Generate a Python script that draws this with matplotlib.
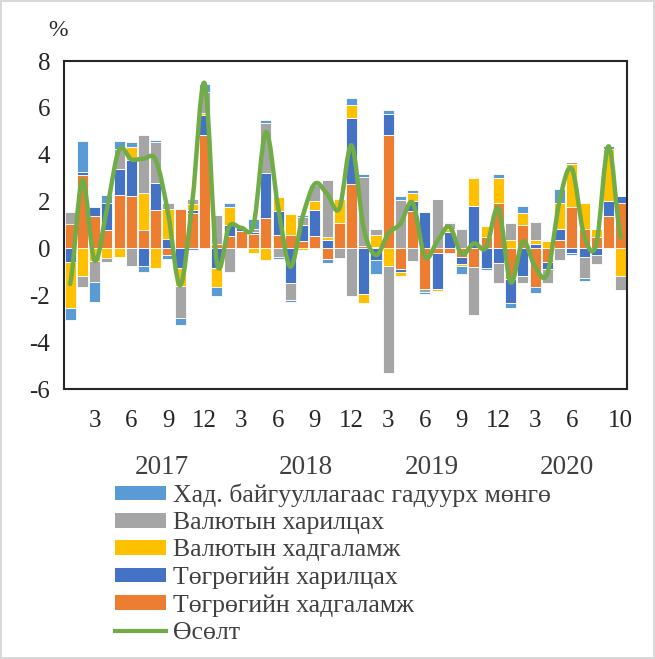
import numpy as np
import matplotlib
matplotlib.use("Agg")
import matplotlib.pyplot as plt
from matplotlib.path import Path
from matplotlib.patches import PathPatch, Patch
from matplotlib.lines import Line2D
import matplotlib.transforms as mtransforms

plt.rcParams['font.family'] = ['Liberation Serif', 'DejaVu Serif']
plt.rcParams['axes.unicode_minus'] = False

# Сарын өгөгдөл: 2017.01 - 2020.10 (46 сар)
tug_dep = [1.04, 3.13, 1.38, 0.78, 2.30, 2.23, 0.78, 1.66, -0.28, 1.70, 1.52, 4.86,
           0.18, 0.54, 0.74, 0.61, 1.28, 0.57, 0.57, 0.31, 0.53, -0.43, 1.09, 2.74,
           0.10, 0.07, 4.86, -0.88, 1.59, -1.73, -0.21, -0.21, -0.36, -0.81, 0.47, 1.92,
           -1.31, 1.02, -1.65, -0.60, 0.38, 1.78, 0.82, 0.47, 1.38, 1.92]
tug_cur = [-0.60, 0.14, 0.37, 1.17, 1.07, 1.54, -0.74, 1.14, 0.40, -0.85, 0.11, 0.85,
           -0.82, 0.48, 0.14, 0.10, 1.92, 1.02, -1.49, 0.69, 1.10, 0.36, 0.00, 2.83,
           -1.95, -0.50, 0.87, -0.12, 0.43, 1.56, -1.54, 0.71, -0.31, 1.81, -0.85, -0.64,
           -1.01, -1.18, 0.18, -0.28, 0.44, -0.21, -0.36, -0.28, 0.64, 0.33]
fx_dep = [-1.93, -1.18, -0.54, -0.40, -0.38, 0.57, 1.57, -0.85, 1.28, -0.75, 0.25, 0.09,
          -0.84, 0.76, 0.00, -0.21, -0.50, 0.61, 0.92, -0.07, 0.40, 0.11, 1.01, 0.54,
          -0.37, 0.50, -0.74, -0.17, 0.35, 0.04, -0.08, 0.11, -0.08, 1.20, 0.48, 1.09,
          0.36, 0.50, 0.16, 0.33, 1.14, 1.82, 1.14, 0.38, 2.22, -1.18]
fx_cur = [0.50, -0.48, -0.88, -0.20, 0.89, -0.75, 2.48, 1.75, 0.28, -1.36, 0.25, 0.88,
          1.24, -1.00, 0.00, 0.11, 2.16, -0.36, -0.71, 0.35, 0.67, 2.47, -0.40, -2.02,
          2.96, 0.25, -4.56, 2.06, -0.54, -0.15, 2.13, 0.27, 0.85, -2.03, 0.00, -0.82,
          0.73, -0.31, 0.80, -0.58, -0.50, 0.07, -0.89, -0.40, 0.00, -0.60]
cash = [-0.53, 1.31, -0.85, 0.32, 0.32, 0.21, -0.26, 0.07, -0.15, -0.31, -0.07, 0.36,
        -0.37, 0.17, 0.00, 0.42, 0.11, -0.09, -0.07, 0.07, 0.06, -0.18, 0.00, 0.31,
        0.11, -0.60, 0.20, 0.17, 0.12, -0.08, 0.00, 0.05, -0.34, 0.05, -0.07, 0.17,
        -0.21, 0.28, -0.27, 0.05, 0.57, -0.05, -0.14, 0.00, 0.12, 0.00]
growth = [-1.52, 2.92, -0.52, 1.67, 4.20, 3.80, 3.83, 3.77, 1.53, -1.57, 2.06, 7.04,
          -0.61, 0.95, 0.88, 1.03, 4.97, 1.75, -0.78, 1.35, 2.76, 2.33, 1.70, 4.40,
          0.85, -0.28, 0.63, 1.06, 1.95, -0.36, 0.30, 0.93, -0.24, 0.22, 0.03, 1.72,
          -1.44, 0.31, -0.78, -1.08, 2.03, 3.41, 0.57, 0.17, 4.36, 0.47]

tick_idx = [2, 5, 8, 11, 14, 17, 20, 23, 26, 29, 32, 35, 38, 41, 45]
tick_lbl = ['3', '6', '9', '12', '3', '6', '9', '12', '3', '6', '9', '12', '3', '6', '10']
years = ['2017', '2018', '2019', '2020']
year_pos = [7.5, 19.3, 29.6, 40.6]

series = [
    (tug_dep, '#ED7D31', 'Төгрөгийн хадгаламж'),
    (tug_cur, '#4472C4', 'Төгрөгийн харилцах'),
    (fx_dep, '#FFC000', 'Валютын хадгаламж'),
    (fx_cur, '#A5A5A5', 'Валютын харилцах'),
    (cash, '#5B9BD5', 'Хад. байгууллагаас гадуурх мөнгө'),
]
txt_col = '#404040'

fig = plt.figure(figsize=(6.55, 6.59), dpi=100)
fig.patch.set_edgecolor('#d9d9d9')
fig.patch.set_linewidth(1.5)
ax = fig.add_axes([0.0977, 0.4097, 0.8593, 0.4977])

x = np.arange(len(growth))
pos_base = np.zeros(len(x))
neg_base = np.zeros(len(x))
for vals, col, name in series:
    v = np.array(vals)
    bottom = np.where(v >= 0, pos_base, neg_base)
    ax.bar(x, v, bottom=bottom, width=0.9, color=col, edgecolor='white', linewidth=0.6)
    pos_base = pos_base + np.clip(v, 0, None)
    neg_base = neg_base + np.clip(v, None, 0)

# сглаженная линия (как в Excel) через кривые Безье
g = np.array(growth)
verts = [(x[0], g[0])]
codes = [Path.MOVETO]
n = len(g)
for i in range(n - 1):
    p0 = g[i - 1] if i > 0 else g[i]
    p3 = g[i + 2] if i + 2 < n else g[i + 1]
    c1 = (x[i] + 1 / 3, g[i] + (g[i + 1] - p0) / 6)
    c2 = (x[i + 1] - 1 / 3, g[i + 1] - (p3 - g[i]) / 6)
    verts += [c1, c2, (x[i + 1], g[i + 1])]
    codes += [Path.CURVE4, Path.CURVE4, Path.CURVE4]
ax.add_patch(PathPatch(Path(verts, codes), facecolor='none', edgecolor='#70AD47',
                       linewidth=3.2, capstyle='round', joinstyle='round', zorder=5))

ax.set_xlim(-0.5, len(x) - 0.5)
ax.set_ylim(-6, 8)
ax.set_yticks(range(-6, 9, 2))
ax.set_xticks(tick_idx)
ax.set_xticklabels(tick_lbl)
ax.tick_params(axis='both', length=0, labelsize=18, labelcolor='#262626')
ax.tick_params(axis='y', pad=10)
ax.tick_params(axis='x', pad=15)
for s in ax.spines.values():
    s.set_color('#262626')
    s.set_linewidth(1.5)

trans = mtransforms.blended_transform_factory(ax.transData, fig.transFigure)
for yr, xp in zip(years, year_pos):
    ax.text(xp, 0.291, yr, transform=trans, ha='center', va='center',
            fontsize=19.5, color=txt_col)

fig.text(0.088, 0.953, '%', ha='center', va='center', fontsize=17, color='#262626')

handles = [Patch(facecolor=c, edgecolor='none') for _, c, _ in reversed(series)]
labels = [nm for _, _, nm in reversed(series)]
handles.append(Line2D([0], [0], color='#70AD47', linewidth=3))
labels.append('Өсөлт')
fig.legend(handles, labels, loc='upper left', bbox_to_anchor=(0.1756, 0.266),
           frameon=False, fontsize=18.5, handlelength=2.0, handleheight=0.5,
           labelspacing=0.2, handletextpad=0.25, borderaxespad=0, borderpad=0,
           labelcolor=txt_col)

fig.savefig('out.png', dpi=100)
